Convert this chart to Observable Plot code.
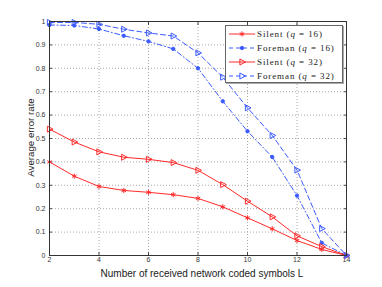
<!DOCTYPE html>
<html><head><meta charset="utf-8">
<script src="https://cdn.jsdelivr.net/npm/d3@7"></script>
<script src="https://cdn.jsdelivr.net/npm/@observablehq/plot@0.6"></script>
<style>
body{margin:0;background:#fff;}
#wrap{position:relative;width:382px;height:287px;}
.legend{position:absolute;left:225px;top:25px;width:118px;height:58px;border:1.5px solid #666;background:#fff;font-family:"Liberation Serif","DejaVu Serif",serif;font-size:9px;letter-spacing:0.9px;color:#222;box-shadow:1px 1px 0 #aaa;box-sizing:border-box;padding-top:1px}
.row{display:flex;align-items:center;height:14px;}
.row svg{margin-left:3px;margin-right:2px;flex:none}
</style></head><body><div id="wrap"></div>
<script>
const L = [2, 3, 4, 5, 6, 7, 8, 9, 10, 11, 12, 13, 14];
const silent16  = [0.400, 0.339, 0.295, 0.278, 0.270, 0.260, 0.244, 0.208, 0.161, 0.114, 0.064, 0.026, 0.0];
const foreman16 = [0.985, 0.983, 0.968, 0.939, 0.915, 0.883, 0.800, 0.659, 0.531, 0.421, 0.256, 0.054, 0.0];
const silent32  = [0.540, 0.485, 0.443, 0.420, 0.411, 0.397, 0.364, 0.303, 0.232, 0.165, 0.084, 0.038, 0.0];
const foreman32 = [0.996, 0.996, 0.988, 0.967, 0.951, 0.938, 0.866, 0.762, 0.631, 0.513, 0.365, 0.115, 0.0];
const seriesNames = ["Silent (q = 16)", "Foreman (q = 16)", "Silent (q = 32)", "Foreman (q = 32)"];
const xTicks = [2, 4, 6, 8, 10, 12, 14];
const yTicks = [0, 0.1, 0.2, 0.3, 0.4, 0.5, 0.6, 0.7, 0.8, 0.9, 1];

const RED = "#ff2a2a", BLUE = "#3b5bff";
const triRight = {draw(ctx, size) {
  const r = Math.sqrt(size / Math.PI) * 1.1;
  ctx.moveTo(r, 0);
  ctx.lineTo(-r * 0.6, -r * 0.85);
  ctx.lineTo(-r * 0.6, r * 0.85);
  ctx.closePath();
}};
const styles = [
  {color: RED, dash: null, symbol: "asterisk", fill: "none", r: 2.4},
  {color: BLUE, dash: "5,2.5,1,2.5", symbol: "circle", fill: BLUE, r: 1.7},
  {color: RED, dash: null, symbol: triRight, fill: "none", r: 3.2},
  {color: BLUE, dash: "5,3", symbol: triRight, fill: "none", r: 3.2}
];
const allSeries = [silent16, foreman16, silent32, foreman32];
const data = allSeries.map((vals, i) => L.map((x, j) => ({L: x, v: vals[j], s: seriesNames[i]})));

const marks = [
  Plot.gridX(xTicks, {stroke: "#aaa", strokeOpacity: 1, strokeDasharray: "1,2"}),
  Plot.gridY(yTicks, {stroke: "#aaa", strokeOpacity: 1, strokeDasharray: "1,2"}),
  Plot.axisX(xTicks, {tickSize: 0, tickPadding: 2, fontSize: 7, fill: "#333", label: null, fontFamily: "Liberation Sans, Arial, sans-serif"}),
  Plot.axisY(yTicks, {tickSize: 0, tickPadding: 4, fontSize: 7, fill: "#333", label: null, tickFormat: d => String(d), fontFamily: "Liberation Sans, Arial, sans-serif"}),
  Plot.axisX(xTicks, {anchor: "bottom", tickSize: -3, tickFormat: () => "", stroke: "#444", label: null}),
  Plot.axisX(xTicks, {anchor: "top", tickSize: -3, tickFormat: () => "", stroke: "#444", label: null}),
  Plot.axisY(yTicks, {anchor: "left", tickSize: -3, tickFormat: () => "", stroke: "#444", label: null}),
  Plot.axisY(yTicks, {anchor: "right", tickSize: -3, tickFormat: () => "", stroke: "#444", label: null}),
];
data.forEach((d, i) => {
  const st = styles[i];
  marks.push(Plot.line(d, {x: "L", y: "v", stroke: st.color, strokeWidth: 1, strokeDasharray: st.dash}));
  marks.push(Plot.dot(d, {x: "L", y: "v", symbol: () => st.symbol, stroke: st.color, fill: st.fill, r: st.r, strokeWidth: 1}));
});
marks.push(Plot.frame({stroke: "#333", strokeWidth: 1}));

const chart = Plot.plot({
  width: 382, height: 287,
  marginLeft: 49, marginRight: 36, marginTop: 21, marginBottom: 32,
  x: {domain: [2, 14]},
  y: {domain: [0, 1]},
  symbol: {type: "identity"},
  style: {background: "#fff", overflow: "visible"},
  marks
});
const wrap = document.getElementById("wrap");
wrap.appendChild(chart);

// axis titles
const svg = d3.select(chart);
svg.append("text").attr("x", 202).attr("y", 276.5).attr("text-anchor", "middle")
  .attr("font-family", "Liberation Sans, Arial, sans-serif").attr("font-size", 10).attr("fill", "#222")
  .text("Number of received network coded symbols L");
svg.append("text").attr("transform", "translate(33.5,137.5) rotate(-90)").attr("text-anchor", "middle")
  .attr("font-family", "Liberation Sans, Arial, sans-serif").attr("font-size", 9.7).attr("fill", "#222")
  .text("Average error rate");

// legend
const leg = document.createElement("div");
leg.className = "legend";
seriesNames.forEach((name, i) => {
  const st = styles[i];
  const row = document.createElement("div");
  row.className = "row";
  const s = d3.create("svg").attr("width", 26).attr("height", 10);
  s.append("line").attr("x1", 0).attr("x2", 26).attr("y1", 5).attr("y2", 5)
    .attr("stroke", st.color).attr("stroke-width", 1).attr("stroke-dasharray", st.dash ? "4,3" : null);
  const sym = typeof st.symbol === "string" ? ({asterisk: d3.symbolAsterisk, circle: d3.symbolCircle})[st.symbol] : st.symbol;
  s.append("path").attr("transform", "translate(13,5)")
    .attr("d", d3.symbol(sym, Math.PI * st.r * st.r)())
    .attr("stroke", st.color).attr("fill", st.fill);
  row.appendChild(s.node());
  const t = document.createElement("span");
  t.innerHTML = name.replace("q", "<i>q</i>");
  row.appendChild(t);
  leg.appendChild(row);
});
wrap.appendChild(leg);
</script></body></html>
